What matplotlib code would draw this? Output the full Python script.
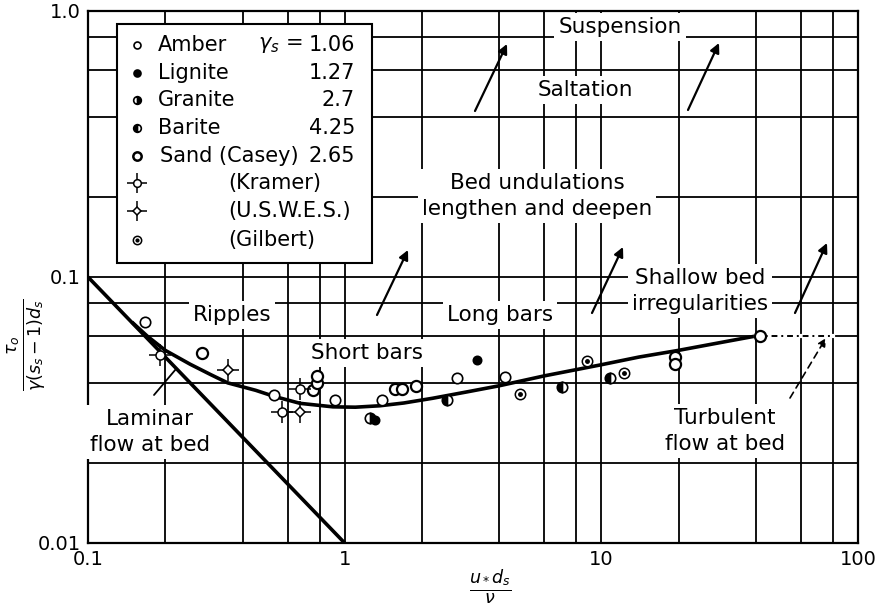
import matplotlib
matplotlib.use("Agg")
import matplotlib.pyplot as plt
from matplotlib.patches import Rectangle

# ---------------- data ----------------
x_major = [0.1, 1, 10, 100]
x_major_labels = ["0.1", "1", "10", "100"]
x_minor = [0.2, 0.4, 0.6, 0.8, 2, 4, 6, 8, 20, 40, 60, 80]
y_major = [0.01, 0.1, 1.0]
y_major_labels = ["0.01", "0.1", "1.0"]
y_minor = [0.02, 0.04, 0.06, 0.08, 0.2, 0.4, 0.6, 0.8]

laminar_x = [0.1, 1.0]
laminar_y = [0.1, 0.01]

curve_x = [0.15, 0.17, 0.2, 0.25, 0.3, 0.35, 0.45, 0.53, 0.67, 0.9, 1.1, 1.37,
           1.7, 2.2, 3.0, 4.0, 6.0, 9.9, 14, 20, 30, 40]
curve_y = [0.067, 0.060, 0.053, 0.047, 0.043, 0.040, 0.0375, 0.0356, 0.0335,
           0.0325, 0.0324, 0.0328, 0.0336, 0.035, 0.037, 0.039, 0.0425, 0.0467,
           0.050, 0.053, 0.057, 0.060]
tail_x = [40, 80]
tail_y = [0.060, 0.060]

amber_x = [0.167, 0.53, 0.92, 1.40, 2.73, 4.2]
amber_y = [0.068, 0.036, 0.0345, 0.0345, 0.0417, 0.042]
lignite_x = [3.27, 1.31]
lignite_y = [0.0488, 0.029]
granite_x = [1.25]
granite_y = [0.0295]
barite_x = [2.5, 7.0, 10.8]
barite_y = [0.0345, 0.0386, 0.0417]
casey_x = [0.278, 0.75, 0.78, 0.78, 1.57, 1.67, 1.9, 19.4, 19.4, 41.5]
casey_y = [0.0518, 0.0376, 0.040, 0.0425, 0.0379, 0.0379, 0.039, 0.050, 0.047, 0.060]
kramer_x = [0.19, 0.57, 0.67]
kramer_y = [0.051, 0.031, 0.038]
uswes_x = [0.35, 0.67]
uswes_y = [0.0447, 0.031]
gilbert_x = [4.8, 8.8, 12.3]
gilbert_y = [0.0363, 0.0483, 0.0436]

legend_names = ["Amber", "Lignite", "Granite", "Barite", "Sand (Casey)",
                "(Kramer)", "(U.S.W.E.S.)", "(Gilbert)"]
legend_values = ["1.06", "1.27", "2.7", "4.25", "2.65", "", "", ""]

# ---------------- figure ----------------
W, H = 875, 605
fig = plt.figure(figsize=(W / 100, H / 100), dpi=100)
L, R, T, B = 88, 858, 11, 543
ax = fig.add_axes([L / W, 1 - B / H, (R - L) / W, (B - T) / H])
ax.set_xscale("log")
ax.set_yscale("log")
ax.set_xlim(0.1, 100)
ax.set_ylim(0.01, 1.0)

FONT = "DejaVu Sans"

ax.set_xticks(x_major)
ax.set_xticklabels(x_major_labels)
ax.set_xticks(x_minor, minor=True)
ax.set_xticklabels([], minor=True)
ax.set_yticks(y_major)
ax.set_yticklabels(y_major_labels)
ax.set_yticks(y_minor, minor=True)
ax.set_yticklabels([], minor=True)
ax.tick_params(which="both", length=0, labelsize=14, pad=5)
for lab in ax.get_xticklabels() + ax.get_yticklabels():
    lab.set_family(FONT)
ax.grid(True, which="both", color="black", lw=1.3)
ax.set_axisbelow(True)
for s in ax.spines.values():
    s.set_linewidth(1.6)


def P(px, py):
    return ((px - L) / (R - L), (B - py) / (B - T))


# ---------------- region labels (white boxes hide the grid) ----------------
box = dict(facecolor="white", edgecolor="none", pad=3)
txt_kw = dict(transform=ax.transAxes, ha="center", va="center", fontsize=15.5,
              family=FONT, bbox=box, zorder=3, linespacing=1.35)
ax.text(*P(620, 27), "Suspension", **txt_kw)
ax.text(*P(585, 90), "Saltation", **txt_kw)
ax.text(*P(537, 196), "Bed undulations\nlengthen and deepen", **txt_kw)
ax.text(*P(700, 291), "Shallow bed\nirregularities", **txt_kw)
ax.text(*P(232, 315), "Ripples", **txt_kw)
ax.text(*P(500, 315), "Long bars", **txt_kw)
ax.text(*P(367, 353), "Short bars", **txt_kw)
ax.text(*P(150, 432), "Laminar\nflow at bed", **txt_kw)
ax.text(*P(725, 431), "Turbulent\nflow at bed", **txt_kw)

arrow_kw = dict(arrowstyle="-|>", color="black", lw=1.6, mutation_scale=14,
                shrinkA=0, shrinkB=0)
for (x0, y0, x1, y1) in [(475, 111, 507, 44), (688, 110, 719, 43),
                         (377, 315, 408, 250), (592, 313, 623, 247),
                         (795, 313, 827, 243)]:
    ax.annotate("", xy=P(x1, y1), xytext=P(x0, y0), xycoords="axes fraction",
                textcoords="axes fraction", arrowprops=arrow_kw, zorder=4)
ax.annotate("", xy=P(176, 369), xytext=P(154, 395), xycoords="axes fraction",
            textcoords="axes fraction",
            arrowprops=dict(arrowstyle="-", color="black", lw=1.3,
                            shrinkA=0, shrinkB=0), zorder=4)
ax.annotate("", xy=P(826, 338), xytext=P(790, 398), xycoords="axes fraction",
            textcoords="axes fraction",
            arrowprops=dict(arrowstyle="-|>", color="black", lw=1.2,
                            linestyle=(0, (4, 3)), mutation_scale=12,
                            shrinkA=0, shrinkB=0), zorder=4)

# ---------------- curves ----------------
ax.plot(laminar_x, laminar_y, color="black", lw=2.6, zorder=5,
        solid_capstyle="butt")
ax.plot(curve_x, curve_y, color="black", lw=2.6, zorder=5,
        solid_joinstyle="round")
ax.plot(tail_x, tail_y, color="white", lw=3.0, zorder=5)
ax.plot(tail_x, tail_y, color="black", lw=1.4, ls=(0, (3, 2, 1, 2)), zorder=5)

# ---------------- data points ----------------
ms = 7.5
ax.plot(amber_x, amber_y, "o", ms=ms, mfc="white", mec="black", mew=1.2, zorder=6, ls="none")
ax.plot(lignite_x, lignite_y, "o", ms=ms - 1.5, mfc="black", mec="black", mew=1.2, zorder=6, ls="none")
ax.plot(granite_x, granite_y, "o", ms=ms, fillstyle="right", mfc="black",
        mfcalt="white", mec="black", mew=1.2, zorder=6, ls="none")
ax.plot(barite_x, barite_y, "o", ms=ms, fillstyle="left", mfc="black",
        mfcalt="white", mec="black", mew=1.2, zorder=6, ls="none")
ax.plot(casey_x, casey_y, "o", ms=ms + 0.5, mfc="white", mec="black", mew=1.6, zorder=6, ls="none")
ax.plot(kramer_x, kramer_y, "+", ms=16, mec="black", mew=1.1, zorder=6, ls="none")
ax.plot(kramer_x, kramer_y, "o", ms=6.5, mfc="white", mec="black", mew=1.1, zorder=6, ls="none")
ax.plot(uswes_x, uswes_y, "+", ms=16, mec="black", mew=1.1, zorder=6, ls="none")
ax.plot(uswes_x, uswes_y, "D", ms=5.5, mfc="white", mec="black", mew=1.1, zorder=6, ls="none")
ax.plot(gilbert_x, gilbert_y, "o", ms=ms, mfc="white", mec="black", mew=1.1, zorder=6, ls="none")
ax.plot(gilbert_x, gilbert_y, "o", ms=2.5, mfc="black", mec="black", zorder=7, ls="none")

# ---------------- legend (drawn as a key box) ----------------
lx0, ly0 = P(117, 263)
lx1, ly1 = P(372, 24)
ax.add_patch(Rectangle((lx0, ly0), lx1 - lx0, ly1 - ly0, transform=ax.transAxes,
                       facecolor="white", edgecolor="black", lw=1.5, zorder=8))
rows_py = [45, 73, 100, 128, 156, 183, 211, 240]
name_px = [158, 158, 158, 158, 160, 228, 228, 228]
lk = dict(transform=ax.transAxes, fontsize=15, family=FONT, va="center", zorder=9)
for i, (nm, val) in enumerate(zip(legend_names, legend_values)):
    py = rows_py[i]
    ax.text(*P(name_px[i], py), nm, ha="left", **lk)
    if val:
        ax.text(*P(355, py), val, ha="right", **lk)
ax.text(*P(303, 45), r"$\gamma_s$ =", ha="right", **lk)

mk = dict(transform=ax.transAxes, zorder=10, ls="none")
mx = P(137, 0)[0]
ax.plot([mx], [P(0, rows_py[0])[1]], "o", ms=5, mfc="white", mec="black", mew=1.2, **mk)
ax.plot([mx], [P(0, rows_py[1])[1]], "o", ms=5, mfc="black", mec="black", mew=1.2, **mk)
ax.plot([mx], [P(0, rows_py[2])[1]], "o", ms=5.5, fillstyle="right", mfc="black",
        mfcalt="white", mec="black", mew=1.2, **mk)
ax.plot([mx], [P(0, rows_py[3])[1]], "o", ms=5.5, fillstyle="left", mfc="black",
        mfcalt="white", mec="black", mew=1.2, **mk)
ax.plot([mx], [P(0, rows_py[4])[1]], "o", ms=6, mfc="white", mec="black", mew=1.8, **mk)
ax.plot([mx], [P(0, rows_py[5])[1]], "+", ms=14, mec="black", mew=1.1, **mk)
ax.plot([mx], [P(0, rows_py[5])[1]], "o", ms=5.5, mfc="white", mec="black", mew=1.1, **mk)
ax.plot([mx], [P(0, rows_py[6])[1]], "+", ms=14, mec="black", mew=1.1, **mk)
ax.plot([mx], [P(0, rows_py[6])[1]], "D", ms=4.5, mfc="white", mec="black", mew=1.1, **mk)
ax.plot([mx], [P(0, rows_py[7])[1]], "o", ms=6, mfc="white", mec="black", mew=1.1, **mk)
ax.plot([mx], [P(0, rows_py[7])[1]], "o", ms=2, mfc="black", mec="black", **mk)

# ---------------- axis titles ----------------
fig.text(490 / W, 1 - 587 / H, r"$\frac{u_* d_s}{\nu}$", ha="center", va="center",
         fontsize=18)
fig.text(27 / W, 1 - 345 / H, r"$\frac{\tau_o}{\gamma(s_s-1)d_s}$", ha="center",
         va="center", rotation=90, fontsize=18)

fig.savefig("out.png", dpi=100, facecolor="white")
